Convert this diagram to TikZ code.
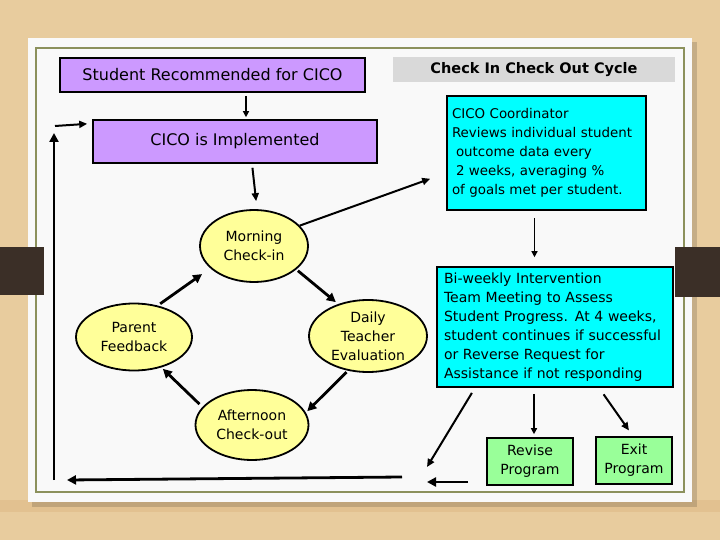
\documentclass[tikz,border=0pt]{standalone}
\usepackage{fontspec}
\setmainfont{DejaVu Sans}
\usetikzlibrary{arrows.meta,shapes.geometric}
\definecolor{wood}{HTML}{E8CC9E}
\definecolor{paper}{HTML}{F9F9F9}
\definecolor{olive}{HTML}{8C915C}
\definecolor{tab}{HTML}{3B2F27}
\definecolor{lilac}{HTML}{CC99FF}
\definecolor{aqua}{HTML}{00FFFF}
\definecolor{mint}{HTML}{99FF99}
\definecolor{cream}{HTML}{FFFF99}
\definecolor{titlegray}{HTML}{D9D9D9}
\newcommand{\txt}{\fontsize{14}{19}\selectfont}
\newcommand{\smalltxt}{\fontsize{13.4}{19}\selectfont}
\newcommand{\bigtxt}{\fontsize{16}{19}\selectfont}
\tikzset{
  purplebox/.style={draw,line width=1.6pt,fill=lilac,minimum height=#1,inner sep=0pt,font=\bigtxt},
  cyanbox/.style={draw,line width=1.6pt,fill=aqua,align=left,inner sep=0pt,font=\txt},
  greenbox/.style={draw,line width=1.6pt,fill=mint,align=center,inner sep=0pt,minimum height=47pt,font=\txt},
  bubble/.style={ellipse,draw,line width=1.8pt,fill=cream,align=center,inner sep=0pt,font=\txt},
  bigarrow/.style={line width=2.8pt,-{Triangle[length=9pt,width=9pt]}},
  midarrow/.style={line width=2pt,-{Triangle[length=8pt,width=7pt]}},
  smallarrow/.style={line width=1.3pt,-{Triangle[length=6pt,width=6pt]}}
}
\begin{document}
\begin{tikzpicture}[x=1pt,y=-1pt]
\useasboundingbox (0,0) rectangle (720,540);
% background and sheet
\fill[wood] (0,0) rectangle (720,540);
\fill[wood!85!brown] (0,500) rectangle (720,512);
\fill[black,opacity=0.15] (32,42) rectangle (697,507);
\fill[paper] (28,38) rectangle (692,502);
\draw[olive,line width=2pt] (36,48) rectangle (684,492);
\fill[tab] (0,247) rectangle (44,295);
\fill[tab] (675,247) rectangle (720,297);

% boxes
\node[purplebox=34pt,minimum width=305pt] (stud) at (212.5,75) {Student Recommended for CICO};
\node[fill=titlegray,minimum width=282pt,minimum height=25pt,inner sep=0pt,font=\fontsize{14.5}{17}\selectfont\bfseries] (title) at (534,70)
  {Check In Check Out Cycle};
\node[purplebox=43pt,minimum width=284pt] (impl) at (235,141.5) {CICO is Implemented};
\node[cyanbox,minimum width=199pt,minimum height=114pt,text width=189pt,font=\smalltxt] (coord) at (546.5,153)
  {CICO Coordinator\\Reviews individual student\\\hspace*{4pt}outcome data every\\\hspace*{4pt}2 weeks, averaging \%\\of goals met per student.};
\node[cyanbox,minimum width=236pt,minimum height=120pt,text width=222pt] (biw) at (555,327)
  {Bi-weekly Intervention\\Team Meeting to Assess\\Student Progress. At 4 weeks,\\student continues if successful\\or Reverse Request for\\Assistance if not responding};
\node[greenbox,minimum width=86pt] (revise) at (530,461.5) {Revise\\Program};
\node[greenbox,minimum width=76pt] (exitp) at (634,460.5) {Exit\\Program};

% daily cycle
\node[bubble,minimum width=108pt,minimum height=72pt] (morning) at (254,246) {Morning\\Check-in};
\node[bubble,minimum width=116pt,minimum height=67pt] (parent) at (134,337) {Parent\\Feedback};
\node[bubble,minimum width=118pt,minimum height=72pt] (daily) at (368,336) {Daily\\Teacher\\Evaluation};
\node[bubble,minimum width=113pt,minimum height=70pt] (after) at (252,425) {Afternoon\\Check-out};

% free ends of the return loop
\coordinate (backtip) at (427,467);
\coordinate (baseR) at (468,482);
\coordinate (baseRtip) at (427,482);
\coordinate (baseL) at (402,477);
\coordinate (corner) at (67,480);
\coordinate (upfoot) at (54,480);
\coordinate (uptip) at (54,133);
\coordinate (stubA) at (55,126);

% connectors
\draw[smallarrow,shorten <=3pt,shorten >=2pt] ([xshift=33.5pt]stud.south) -- ([xshift=33.5pt]stud.south |- impl.north);
\draw[midarrow,shorten <=4pt,shorten >=8pt] ([xshift=17pt]impl.south) -- ([xshift=3pt]morning.north);
\draw[midarrow,shorten >=17pt] (morning.24) -- ([yshift=-20pt]coord.west);
\draw[bigarrow,shorten <=2pt,shorten >=3pt] (morning.-29) -- (daily.133);
\draw[bigarrow,shorten <=2pt,shorten >=2pt] (daily.-120) -- (after.13);
\draw[bigarrow,shorten <=4pt,shorten >=2pt] (after.160) -- (parent.-48);
\draw[bigarrow,shorten <=3pt,shorten >=10pt] (parent.53) -- (morning.207);
\draw[smallarrow,shorten <=7pt,shorten >=9pt] ([xshift=-12pt]coord.south) -- ([xshift=-12pt]coord.south |- biw.north);
\draw[smallarrow,shorten <=6pt,shorten >=3pt] ([xshift=4pt]revise.north |- biw.south) -- ([xshift=4pt]revise.north);
\draw[midarrow,shorten <=8pt,shorten >=7pt] ([xshift=44pt]biw.south) -- ([xshift=-1pt]exitp.north);
\draw[midarrow,shorten <=6pt] ([xshift=-80pt]biw.south) -- (backtip);
\draw[bigarrow] (baseR) -- (baseRtip);
\draw[bigarrow] (baseL) -- (corner);
\draw[bigarrow] (upfoot) -- (uptip);
\draw[midarrow,shorten >=5pt] (stubA) -- ([yshift=18pt]impl.west);
\end{tikzpicture}
\end{document}
